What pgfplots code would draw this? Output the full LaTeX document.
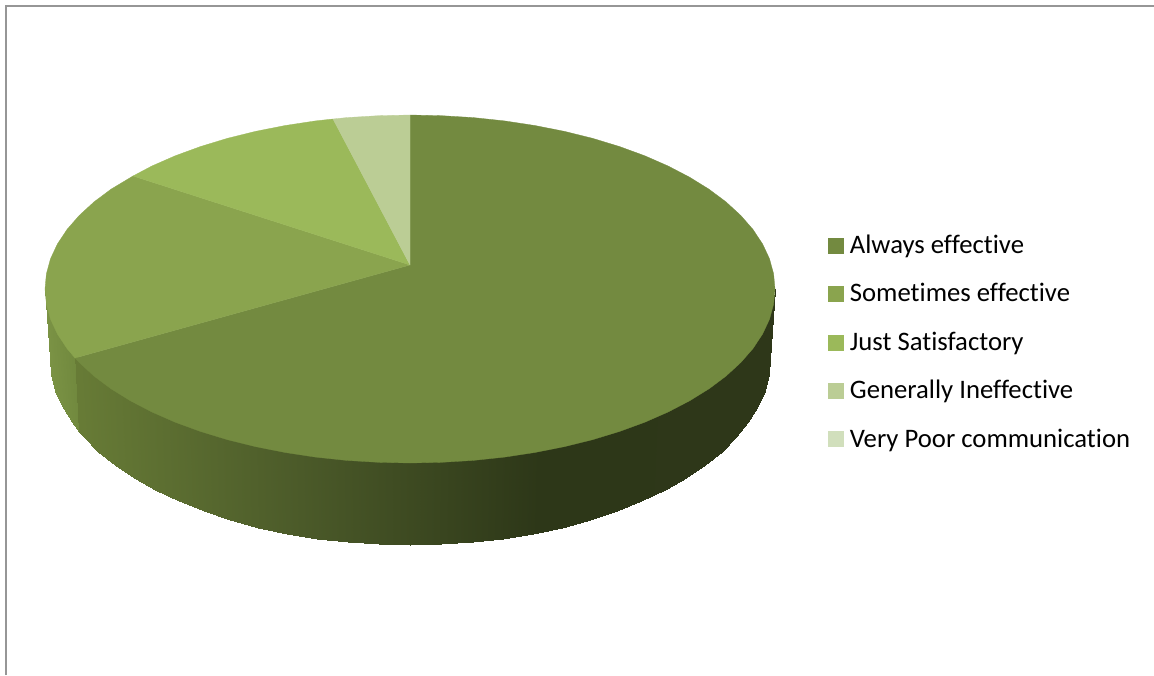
\documentclass[border=0pt]{standalone}
\usepackage{pgfplots}
\pgfplotsset{compat=1.18}
\usepackage{fontspec}
\setmainfont{Carlito}[Ligatures=NoCommon]
\definecolor{cA}{RGB}{115,138,64}
\definecolor{cB}{RGB}{138,164,78}
\definecolor{cC}{RGB}{155,185,90}
\definecolor{cD}{RGB}{187,205,149}
\definecolor{cE}{RGB}{209,223,188}
\definecolor{frame}{RGB}{150,150,150}
\begin{document}
\begin{tikzpicture}
\begin{axis}[
  scale only axis, width=1154pt, height=675pt,
  xmin=0, xmax=1154, ymin=0, ymax=675, y dir=reverse,
  hide axis, clip=true,
  colormap={side}{rgb255(0)=(123,147,69); rgb255(30)=(113,137,62); rgb255(133)=(103,123,54); rgb255(355)=(75,90,41); rgb255(595)=(45,55,24); rgb255(830)=(46,55,25)},
  point meta min=-55, point meta max=775,
  legend style={draw=none, fill=none, at={(axis cs:827.5,236.5)}, anchor=north west,
    font=\fontsize{26.7}{30}\selectfont, /tikz/row sep=26.4pt, inner sep=0pt, outer sep=0pt,
    /tikz/every odd column/.append style={column sep=7pt},
    nodes={inner sep=0pt, text height=17pt, text depth=5pt}},
  legend cell align=left,
  legend image code/.code={\fill[#1] (0pt,-5.5pt) rectangle (15pt,9.5pt);},
]
% frame
\addplot[draw=frame, line width=2pt, mark=none, forget plot] coordinates {(6,675) (6,5.5) (1154,5.5)};
% side of the small visible slice
\addplot[surf, shader=interp, mesh/rows=2, point meta=explicit, forget plot] table[meta=c] {
x y c
45 289 -55
46.4 300.2 -53.6
50.5 315.2 -49.5
57.4 330 -42.6
67 344.5 -33
74.8 354 -25
50 358 -55
51.4 374.3 -53.6
55.5 390.5 -49.5
62.3 406.4 -42.6
71.7 422 -33
79.5 432.2 -25
};
% side of the large slice
\addplot[surf, shader=interp, mesh/rows=2, point meta=explicit, forget plot] table[meta=c] {
x y c
74.8 354 78
79.2 358.5 79
93.9 372 94
111 384.8 111
130.4 396.8 130
151.9 408 152
175.4 418.3 175
200.6 427.5 201
227.5 435.7 228
255.8 442.7 256
285.2 448.5 285
315.5 453.1 316
346.6 456.4 347
378.2 458.3 378
410 459 410
441.8 458.3 442
473.4 456.4 473
504.5 453.1 505
534.8 448.5 535
564.2 442.7 564
592.5 435.7 593
619.4 427.5 619
644.6 418.3 645
668.1 408 668
689.6 396.8 690
709 384.8 709
726.1 372 726
740.8 358.5 741
753 344.5 753
762.6 330 763
769.5 315.2 770
773.6 300.2 774
775 289 775
79.5 432.2 78
83.7 437 79
98.2 451.5 94
115.1 465.3 111
134.2 478.2 130
155.4 490.2 152
178.6 501.2 175
203.5 511.2 201
230 519.9 228
257.9 527.5 256
286.9 533.7 285
316.8 538.6 316
347.5 542.2 347
378.6 544.3 378
410 545 410
441.4 544.3 442
472.5 542.2 473
503.2 538.6 505
533.1 533.7 535
562.1 527.5 564
590 519.9 593
616.5 511.2 619
641.4 501.2 645
664.6 490.2 668
685.8 478.2 690
704.9 465.3 709
721.8 451.5 726
736.3 437 741
748.3 422 753
757.7 406.4 763
764.5 390.5 770
768.6 374.3 774
770 358 775
};
% top faces
\addplot[draw=cA, line width=0.3pt, fill=cA, mark=none] coordinates {
(410,265) (410,115) (441.8,115.7) (473.4,117.6) (504.5,120.9) (534.8,125.5) (564.2,131.3) (592.5,138.3) (619.4,146.5) (644.6,155.7) (668.1,166) (689.6,177.2) (709,189.2) (726.1,202) (740.8,215.5) (753,229.5) (762.6,244) (769.5,258.8) (773.6,273.8) (775,289)
(773.6,304.2) (769.5,319.2) (762.6,334) (753,348.5) (740.8,362.5) (726.1,376) (709,388.8) (689.6,400.8) (668.1,412) (644.6,422.3) (619.4,431.5) (592.5,439.7) (564.2,446.7) (534.8,452.5) (504.5,457.1) (473.4,460.4) (441.8,462.3) (410,463)
(378.2,462.3) (346.6,460.4) (315.5,457.1) (285.2,452.5) (255.8,446.7) (227.5,439.7) (200.6,431.5) (175.4,422.3) (151.9,412) (130.4,400.8) (111,388.8) (93.9,376) (79.2,362.5) (75,358) (410,265)};
\addlegendentry{Always effective}
\addplot[draw=cB, line width=0.3pt, fill=cB, mark=none] coordinates {
(410,265) (75,358) (67,348.5) (57.4,334) (50.5,319.2) (46.4,304.2) (45,289) (46.4,273.8) (50.5,258.8) (57.4,244) (67,229.5) (79.2,215.5) (93.9,202) (111,189.2) (133,176) (410,265)};
\addlegendentry{Sometimes effective}
\addplot[draw=cC, line width=0.3pt, fill=cC, mark=none] coordinates {
(410,265) (133,176) (151.9,166) (175.4,155.7) (200.6,146.5) (227.5,138.3) (255.8,131.3) (285.2,125.5) (315.5,120.9) (333,119) (410,265)};
\addlegendentry{Just Satisfactory}
\addplot[draw=cD, line width=0.3pt, fill=cD, mark=none] coordinates {
(410,265) (333,119) (346.6,117.6) (378.2,115.7) (410,115) (410,265)};
\addlegendentry{Generally Ineffective}
\addlegendimage{draw=cE, fill=cE}
\addlegendentry{Very Poor communication}
\end{axis}
\path (current axis.south west) rectangle (current axis.north east);
\end{tikzpicture}
\end{document}
